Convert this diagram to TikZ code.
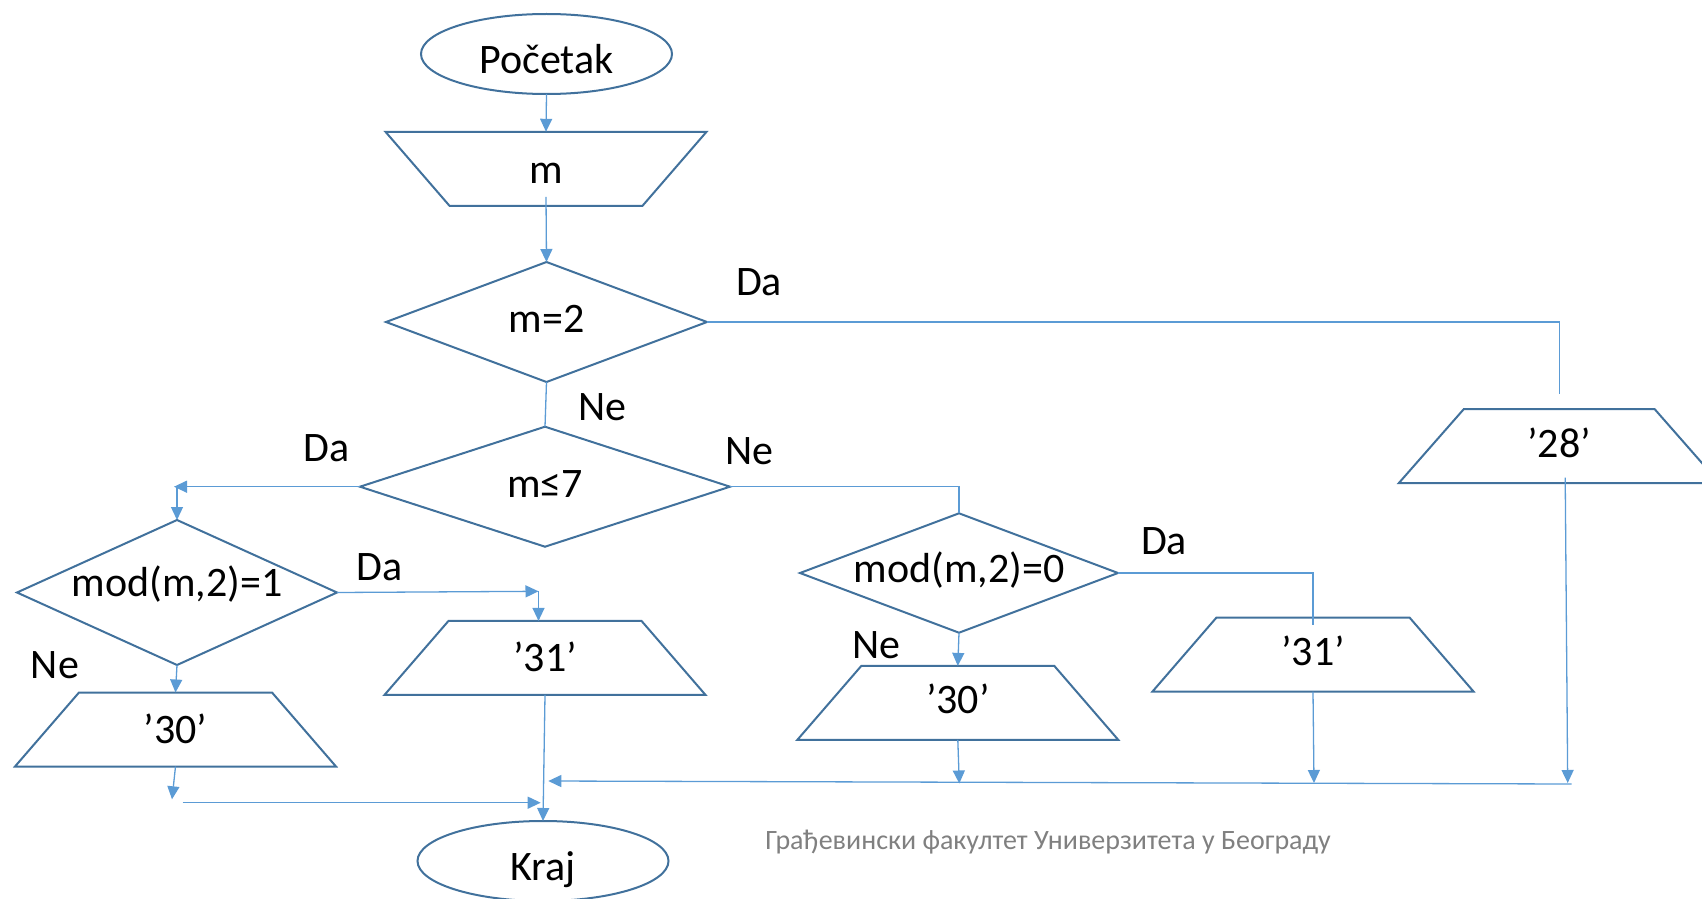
\documentclass[tikz,border=0pt]{standalone}
\usepackage{fontspec}
\setmainfont{Carlito}
\usetikzlibrary{arrows.meta,shapes.geometric}
\definecolor{shapeblue}{HTML}{41719C}
\definecolor{connblue}{HTML}{5B9BD5}
\definecolor{wmgray}{HTML}{808080}
\newcommand\mainsize{\fontsize{21pt}{25pt}\selectfont}
\newcommand\wmsize{\fontsize{14pt}{17pt}\selectfont}
\newcommand\dmd[1]{\draw[outl] (#1.north) -- (#1.east) -- (#1.south) -- (#1.west) -- cycle;}
\newcommand\inpz[2]{\draw[outl] (#1.north west) -- (#1.north east) -- ([xshift=-#2]#1.south east) -- ([xshift=#2]#1.south west) -- cycle;}
\newcommand\outz[2]{\draw[outl] ([xshift=#2]#1.north west) -- ([xshift=-#2]#1.north east) -- (#1.south east) -- (#1.south west) -- cycle;}
\tikzset{
  shp/.style={rectangle, inner sep=0pt, outer sep=0pt, font=\mainsize},
  ell/.style={ellipse, draw=shapeblue, line width=1pt, inner sep=0pt, outer sep=0pt,
              minimum width=125.5pt, minimum height=40pt, font=\mainsize},
  outl/.style={draw=shapeblue, line width=1pt, line join=miter},
  conn/.style={draw=connblue, line width=0.65pt},
  arr/.style={conn, -{Triangle[length=6.5pt,width=6pt]}},
  lbl/.style={anchor=base, inner sep=0pt, font=\mainsize},
  tb/.style={text height=#1pt, text depth=0pt},
  trap/.style={shp, minimum width=160.5pt, minimum height=37pt},
}
\begin{document}
\begin{tikzpicture}[x=0.5pt,y=-0.5pt]
\useasboundingbox (0,0) rectangle (1702,899);
\clip (0,0) rectangle (1702,899);

% shapes
\node[ell, tb=19.3] (start) at (546.5,54) {Početak};
\node[trap, tb=15] (inp) at (546,168.8) {m};
\inpz{inp}{32pt}
\node[shp, minimum width=160.5pt, minimum height=60pt, tb=10.3] (d1) at (546.5,322) {m=2};
\dmd{d1}
\node[shp, minimum width=185pt, minimum height=60pt, tb=10.6] (d2) at (545,486.7) {m≤7};
\dmd{d2}
\node[shp, minimum width=160pt, minimum height=72.5pt, tb=4.2] (d3) at (177,592.5) {mod(m,2)=1};
\dmd{d3}
\node[shp, minimum width=159pt, minimum height=59.7pt, tb=9.7] (d4) at (959,573) {mod(m,2)=0};
\dmd{d4}
\node[trap, tb=13.8] (o31a) at (545,657.9) {’31’};
\outz{o31a}{32pt}
\node[trap, tb=13.8] (o30a) at (175.5,729.5) {’30’};
\outz{o30a}{32pt}
\node[trap, tb=10.4] (o30b) at (957.8,702.9) {’30’};
\outz{o30b}{32pt}
\node[trap, tb=10.5] (o31b) at (1313,654.5) {’31’};
\outz{o31b}{32pt}
\node[trap, tb=11.1] (o28) at (1559.2,446.2) {’28’};
\outz{o28}{32.5pt}
\node[ell, tb=19] (end) at (543,861) {Kraj};

% free connector ends
\coordinate (jL) at (174,486.7);
\coordinate (jR) at (538.5,591.3);
\coordinate (a30a) at (172,799.3);
\coordinate (b0) at (182.7,802.7);
\coordinate (b1) at (540.7,802.7);
\coordinate (r0) at (1571.7,784);
\coordinate (r1) at (548.3,781);
\coordinate (a30b) at (959.3,783.5);
\coordinate (a31b) at (1314,783);
\coordinate (a28) at (1567.7,783);

% connectors
\draw[arr] (start.south) -- (inp.north);
\draw[arr] ([yshift=4.5pt]inp.south) -- (d1.north);
\draw[conn] (d1.south) -- (d2.north);
\draw[conn] (d1.east) -| ([yshift=7.5pt]o28.north);
\draw[arr] (d2.west) -- (jL);
\draw[arr] (d3.north |- jL) -- (d3.north);
\draw[conn] (d2.east) -| (d4.north);
\draw[arr] (d3.east) -- (jR);
\draw[arr] (jR) -- (jR |- o31a.north);
\draw[arr] (d3.south) -- (o30a.north);
\draw[arr] (o30a.south) -- (a30a);
\draw[arr] (b0) -- (b1);
\draw[arr] (o31a.south) -- (end.north);
\draw[arr] (d4.south) -- (o30b.north);
\draw[conn] (d4.east) -| ([yshift=-3.85pt]o31b.north);
\draw[arr] (o30b.south) -- (a30b);
\draw[arr] (o31b.south) -- (a31b);
\draw[arr] ([xshift=3pt,yshift=2.8pt]o28.south) -- (a28);
\draw[arr] (r0) -- (r1);

% branch labels
\node[lbl] (l1) at (759,295) {Da};
\node[lbl] (l2) at (602,420) {Ne};
\node[lbl] (l3) at (326.3,461.7) {Da};
\node[lbl] (l4) at (749.7,464.3) {Ne};
\node[lbl] (l5) at (379.5,580.7) {Da};
\node[lbl] (l6) at (55,678.3) {Ne};
\node[lbl] (l7) at (1164,554) {Da};
\node[lbl] (l8) at (876,658.3) {Ne};

% footer
\node[anchor=base, inner sep=0pt, font=\wmsize, text=wmgray] (wm) at (1048,849)
  {Грађевински факултет Универзитета у Београду};
\end{tikzpicture}
\end{document}
